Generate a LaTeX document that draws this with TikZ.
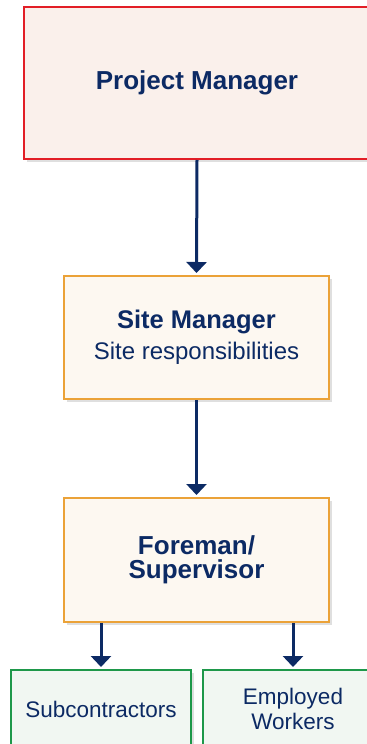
\documentclass[tikz,border=0pt]{standalone}
\usepackage{fontspec}
\setmainfont{Liberation Sans}
\usepackage{xcolor}
\usepackage{tikz}
\usetikzlibrary{calc}
\usetikzlibrary{arrows.meta}
\usetikzlibrary{shadows}
\definecolor{navy}{RGB}{12,42,100}
\definecolor{pmred}{RGB}{226,30,38}
\definecolor{pmfill}{RGB}{250,240,235}
\definecolor{smorange}{RGB}{235,162,56}
\definecolor{smfill}{RGB}{253,248,241}
\definecolor{wkgreen}{RGB}{30,152,74}
\definecolor{wkfill}{RGB}{241,247,242}
\tikzset{
  rolebox/.style = {draw, line width=1pt, text=navy, align=center, inner sep=0pt,
    drop shadow={shadow xshift=1.5pt, shadow yshift=-1.5pt, opacity=.25}},
  topbox/.style = {rolebox, draw=pmred, fill=pmfill},
  midbox/.style = {rolebox, draw=smorange, fill=smfill},
  lowbox/.style = {rolebox, draw=wkgreen, fill=wkfill},
  link/.style = {navy, line width=1.5pt, -{Triangle[width=10pt,length=5.5pt]}, shorten >=1pt}
}

\begin{document}
\begin{tikzpicture} [x=.5pt, y=-.5pt]
    \useasboundingbox (0,0) rectangle (367,744);
    \clip (0,0) rectangle (367,744);
    % chain of command
    \node[topbox, minimum width=173pt, minimum height=76pt,
      font=\bfseries\fontsize{13}{15}\selectfont] (pm) at (197,83) {Project Manager};
    \node[midbox, minimum width=132.5pt, minimum height=61.5pt,
      font=\fontsize{12}{15.5}\selectfont] (sm) at (196.5,337.5)
      {{\bfseries\fontsize{12.75}{15.5}\selectfont Site Manager}\\Site responsibilities};
    \node[midbox, minimum width=132.5pt, minimum height=62pt,
      font=\bfseries\fontsize{13}{12}\selectfont] (fs) at (196.5,560) {Foreman/\\Supervisor};
    \node[lowbox, minimum width=90pt, minimum height=39pt,
      font=\fontsize{11.25}{12.5}\selectfont] (sub) at (101,709) {Subcontractors};
    \node[lowbox, minimum width=90pt, minimum height=39pt,
      font=\fontsize{11.25}{12.5}\selectfont] (emp) at (293,709) {Employed\\Workers};
    % arrows
    \draw[link] (pm.south) -- (sm.north);
    \draw[link] (sm.south) -- (fs.north);
    \draw[link] (fs.south -| sub.north) -- (sub.north);
    \draw[link] (fs.south -| emp.north) -- (emp.north);
\end{tikzpicture}
\end{document}
